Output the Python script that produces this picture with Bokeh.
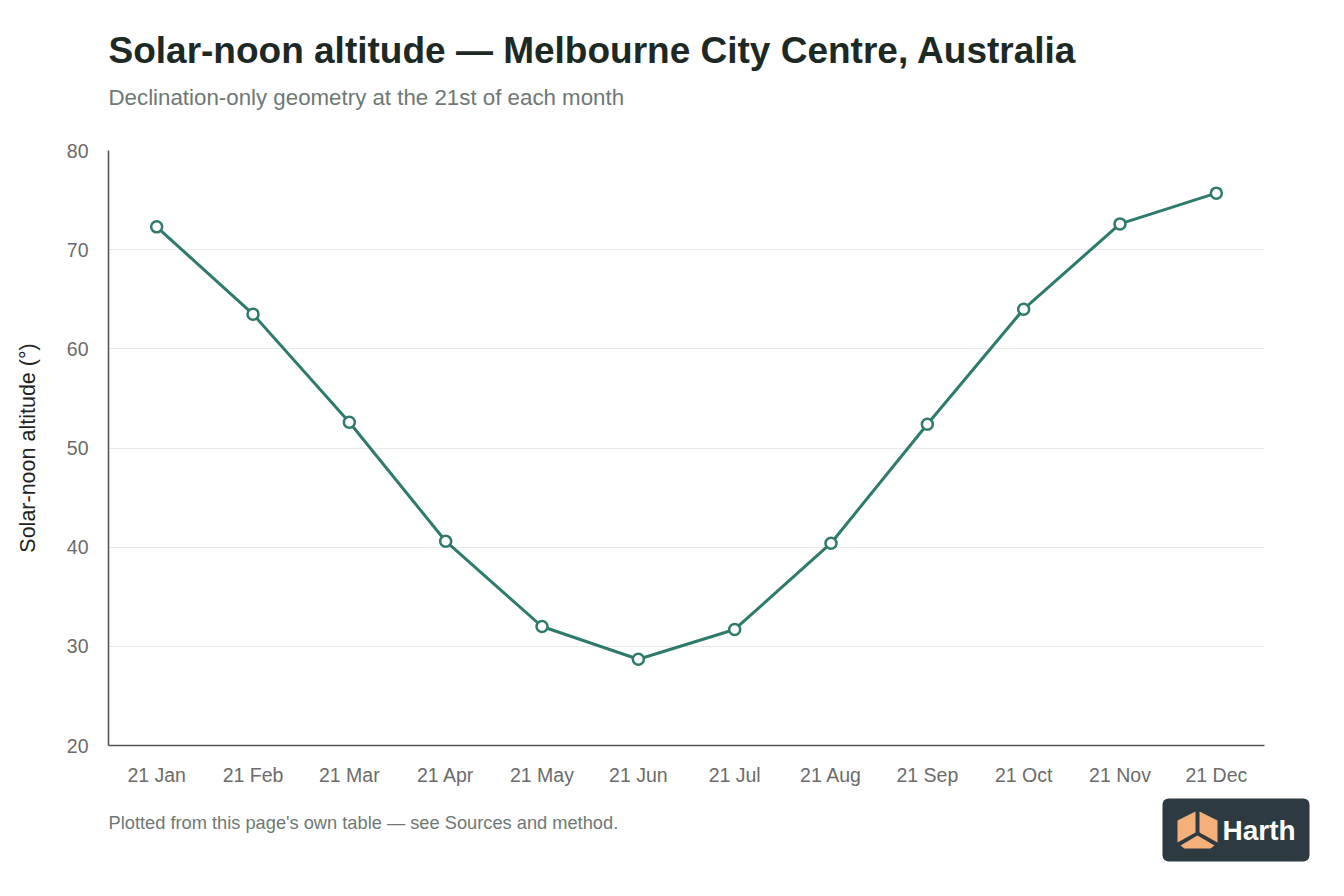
from bokeh.plotting import figure
from bokeh.layouts import column, row
from bokeh.models import Range1d, FactorRange, FixedTicker
from bokeh.core.properties import value
from bokeh.embed import file_html
from bokeh.resources import INLINE

# data
months = ["21 Jan", "21 Feb", "21 Mar", "21 Apr", "21 May", "21 Jun",
          "21 Jul", "21 Aug", "21 Sep", "21 Oct", "21 Nov", "21 Dec"]
altitude = [72.3, 63.5, 52.6, 40.6, 32.0, 28.7, 31.7, 40.4, 52.4, 64.0, 72.6, 75.7]
y_ticks = [20, 30, 40, 50, 60, 70, 80]

title_text = "Solar-noon altitude \u2014 Melbourne City Centre, Australia"
subtitle_text = "Declination-only geometry at the 21st of each month"
footer_text = "Plotted from this page's own table \u2014 see Sources and method."

FONT = "Liberation Sans"
TEAL = "#2e7a6c"
GREY_TEXT = "#6e7874"
W = 1336


def strip(height):
    # blank figure whose data units are pixels, y measured from the top
    f = figure(width=W, height=height, x_range=Range1d(0, W), y_range=Range1d(height, 0),
               x_axis_type=None, y_axis_type=None, min_border=0,
               output_backend="svg", toolbar_location=None, tools="")
    f.outline_line_color = None
    f.grid.visible = False
    return f


# header
head = strip(140)
head.text(x=[108], y=[50], text=[title_text], text_font=value(FONT), text_font_size="37px",
          text_font_style="bold", text_color="#1d2925", text_baseline="middle")
head.text(x=[108], y=[97], text=[subtitle_text], text_font=value(FONT), text_font_size="22.3px",
          text_color=GREY_TEXT, text_baseline="middle")

# main chart
p = figure(x_range=FactorRange(*months, range_padding=0), y_range=Range1d(20, 80),
           frame_width=1156, frame_height=595,
           min_border_left=108, min_border_top=10, min_border_right=72, min_border_bottom=45,
           output_backend="svg", toolbar_location=None, tools="")
p.outline_line_color = None
p.xgrid.grid_line_color = None
p.ygrid.grid_line_color = "#e9e9e9"
p.ygrid.grid_line_width = 1
p.yaxis.ticker = FixedTicker(ticks=y_ticks)

for ax in (p.xaxis[0], p.yaxis[0]):
    ax.axis_line_color = "#555555"
    ax.axis_line_width = 1.6
    ax.major_tick_line_color = None
    ax.minor_tick_line_color = None
    ax.major_label_text_font = FONT
    ax.major_label_text_font_size = "19.5px"
    ax.major_label_text_color = "#6b6b6b"

p.xaxis.major_label_standoff = 12
p.yaxis.major_label_standoff = 14
p.yaxis.axis_label = "Solar-noon altitude (\u00b0)"
p.yaxis.axis_label_text_font = FONT
p.yaxis.axis_label_text_font_size = "21.5px"
p.yaxis.axis_label_text_font_style = "normal"
p.yaxis.axis_label_text_color = "#222222"
p.yaxis.axis_label_standoff = 24

p.line(months, altitude, line_color=TEAL, line_width=3)
p.scatter(months, altitude, size=11, fill_color="white", line_color=TEAL, line_width=2.5)

# footer with note and logo badge
foot = strip(98)
foot.text(x=[108], y=[32], text=[footer_text], text_font=value(FONT), text_font_size="18.25px",
          text_color=GREY_TEXT, text_baseline="middle")
foot.quad(left=[1162], right=[1309], top=[8], bottom=[71], fill_color="#2d3a42",
          line_color=None, border_radius=6)
ORANGE = "#f5b07a"
faces_x = [[1177, 1195, 1195, 1177], [1199, 1217, 1217, 1199],
           [1180, 1197, 1214, 1210, 1184]]
faces_y = [[30, 21, 42, 52], [21, 30, 52, 42], [55, 45, 55, 58, 58]]
foot.patches(faces_x, faces_y, fill_color=ORANGE, line_color=None)
foot.text(x=[1222], y=[40], text=["Harth"], text_font=value(FONT), text_font_size="28px",
          text_font_style="bold", text_color="white", text_baseline="middle")

page = column(row(head), p, row(foot), spacing=0)
open("out.html", "w").write(file_html(page, INLINE))
